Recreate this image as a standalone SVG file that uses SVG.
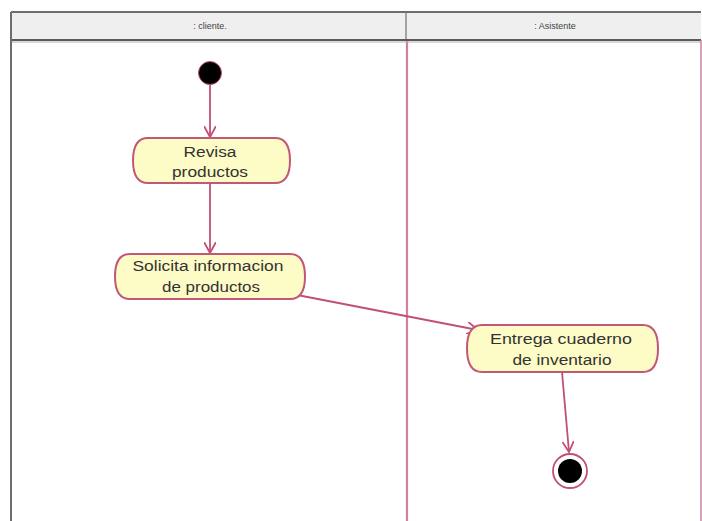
<svg xmlns="http://www.w3.org/2000/svg" width="702" height="521" viewBox="0 0 702 521">
<style>
.frame{fill:none;stroke:#6e6e6e;stroke-width:2}
.hdr{fill:#efefef}
.htext{font-family:"Liberation Sans",Arial,sans-serif;font-size:9px;fill:#444;text-anchor:middle}
.node{fill:#fdfbc6;stroke:#c25878;stroke-width:2}
.ntext{font-family:"Liberation Sans",Arial,sans-serif;font-size:14px;fill:#333;text-anchor:middle}
.edge{fill:none;stroke:#c05078;stroke-width:1.8}
.lane{stroke:#d27fa0;stroke-width:2.2}
</style>
<defs>
<marker id="arr" viewBox="0 0 12 12" refX="11" refY="6" markerWidth="12" markerHeight="12" markerUnits="userSpaceOnUse" orient="auto">
<path d="M0,0 L11,6 L0,12" fill="none" stroke="#c05078" stroke-width="1.8"/>
</marker>
</defs>
<rect x="0" y="0" width="702" height="521" fill="#ffffff"/>
<g id="swimlanes">
<rect class="hdr" x="11" y="12" width="690" height="28"/>
<line class="lane" x1="407" y1="40" x2="407" y2="521"/>
<line x1="406" y1="12" x2="406" y2="40" stroke="#8a8a8a" stroke-width="1.5"/>
<line x1="11" y1="12" x2="701" y2="12" stroke="#6e6e6e" stroke-width="2"/>
<line x1="11" y1="40" x2="701" y2="40" stroke="#5a5a5a" stroke-width="2"/>
<line x1="11" y1="42" x2="701" y2="42" stroke="#b0b0b0" stroke-width="1"/>
<line x1="11" y1="12" x2="11" y2="521" stroke="#6e6e6e" stroke-width="2"/>
<line x1="701" y1="40" x2="701" y2="521" stroke="#d27fa0" stroke-width="1.5"/>
<text class="htext" x="210" y="29">: cliente.</text>
<text class="htext" x="555" y="29">: Asistente</text>
</g>
<g id="connectors">
<line class="edge" x1="210" y1="84" x2="210" y2="137" marker-end="url(#arr)"/>
<line class="edge" x1="210" y1="183" x2="210" y2="253" marker-end="url(#arr)"/>
<line class="edge" x1="292" y1="294" x2="478" y2="330" marker-end="url(#arr)"/>
<line class="edge" x1="562" y1="372" x2="569" y2="452" marker-end="url(#arr)"/>
</g>
<g id="start">
<circle cx="210" cy="73" r="11.5" fill="#000" stroke="#c05078" stroke-width="1"/>
</g>
<g id="revisa">
<path class="node" d="M148,138 L275,138 Q290,138 290,160.5 Q290,183 275,183 L148,183 Q133,183 133,160.5 Q133,138 148,138 Z"/>
<text class="ntext" x="210" y="157" textLength="53" lengthAdjust="spacingAndGlyphs">Revisa</text>
<text class="ntext" x="210" y="177" textLength="76" lengthAdjust="spacingAndGlyphs">productos</text>
</g>
<g id="solicita">
<path class="node" d="M130,254 L290,254 Q305,254 305,276.5 Q305,299 290,299 L130,299 Q115,299 115,276.5 Q115,254 130,254 Z"/>
<text class="ntext" x="208" y="271" textLength="151" lengthAdjust="spacingAndGlyphs">Solicita informacion</text>
<text class="ntext" x="211" y="292" textLength="98" lengthAdjust="spacingAndGlyphs">de productos</text>
</g>
<g id="entrega">
<path class="node" d="M482,325 L643,325 Q658,325 658,348.5 Q658,372 643,372 L482,372 Q467,372 467,348.5 Q467,325 482,325 Z"/>
<text class="ntext" x="561" y="344" textLength="142" lengthAdjust="spacingAndGlyphs">Entrega cuaderno</text>
<text class="ntext" x="562" y="365" textLength="99" lengthAdjust="spacingAndGlyphs">de inventario</text>
</g>
<g id="end">
<circle cx="570" cy="471" r="17" fill="#fff" stroke="#c05078" stroke-width="1.8"/>
<circle cx="570" cy="471" r="12" fill="#000"/>
</g>
</svg>
